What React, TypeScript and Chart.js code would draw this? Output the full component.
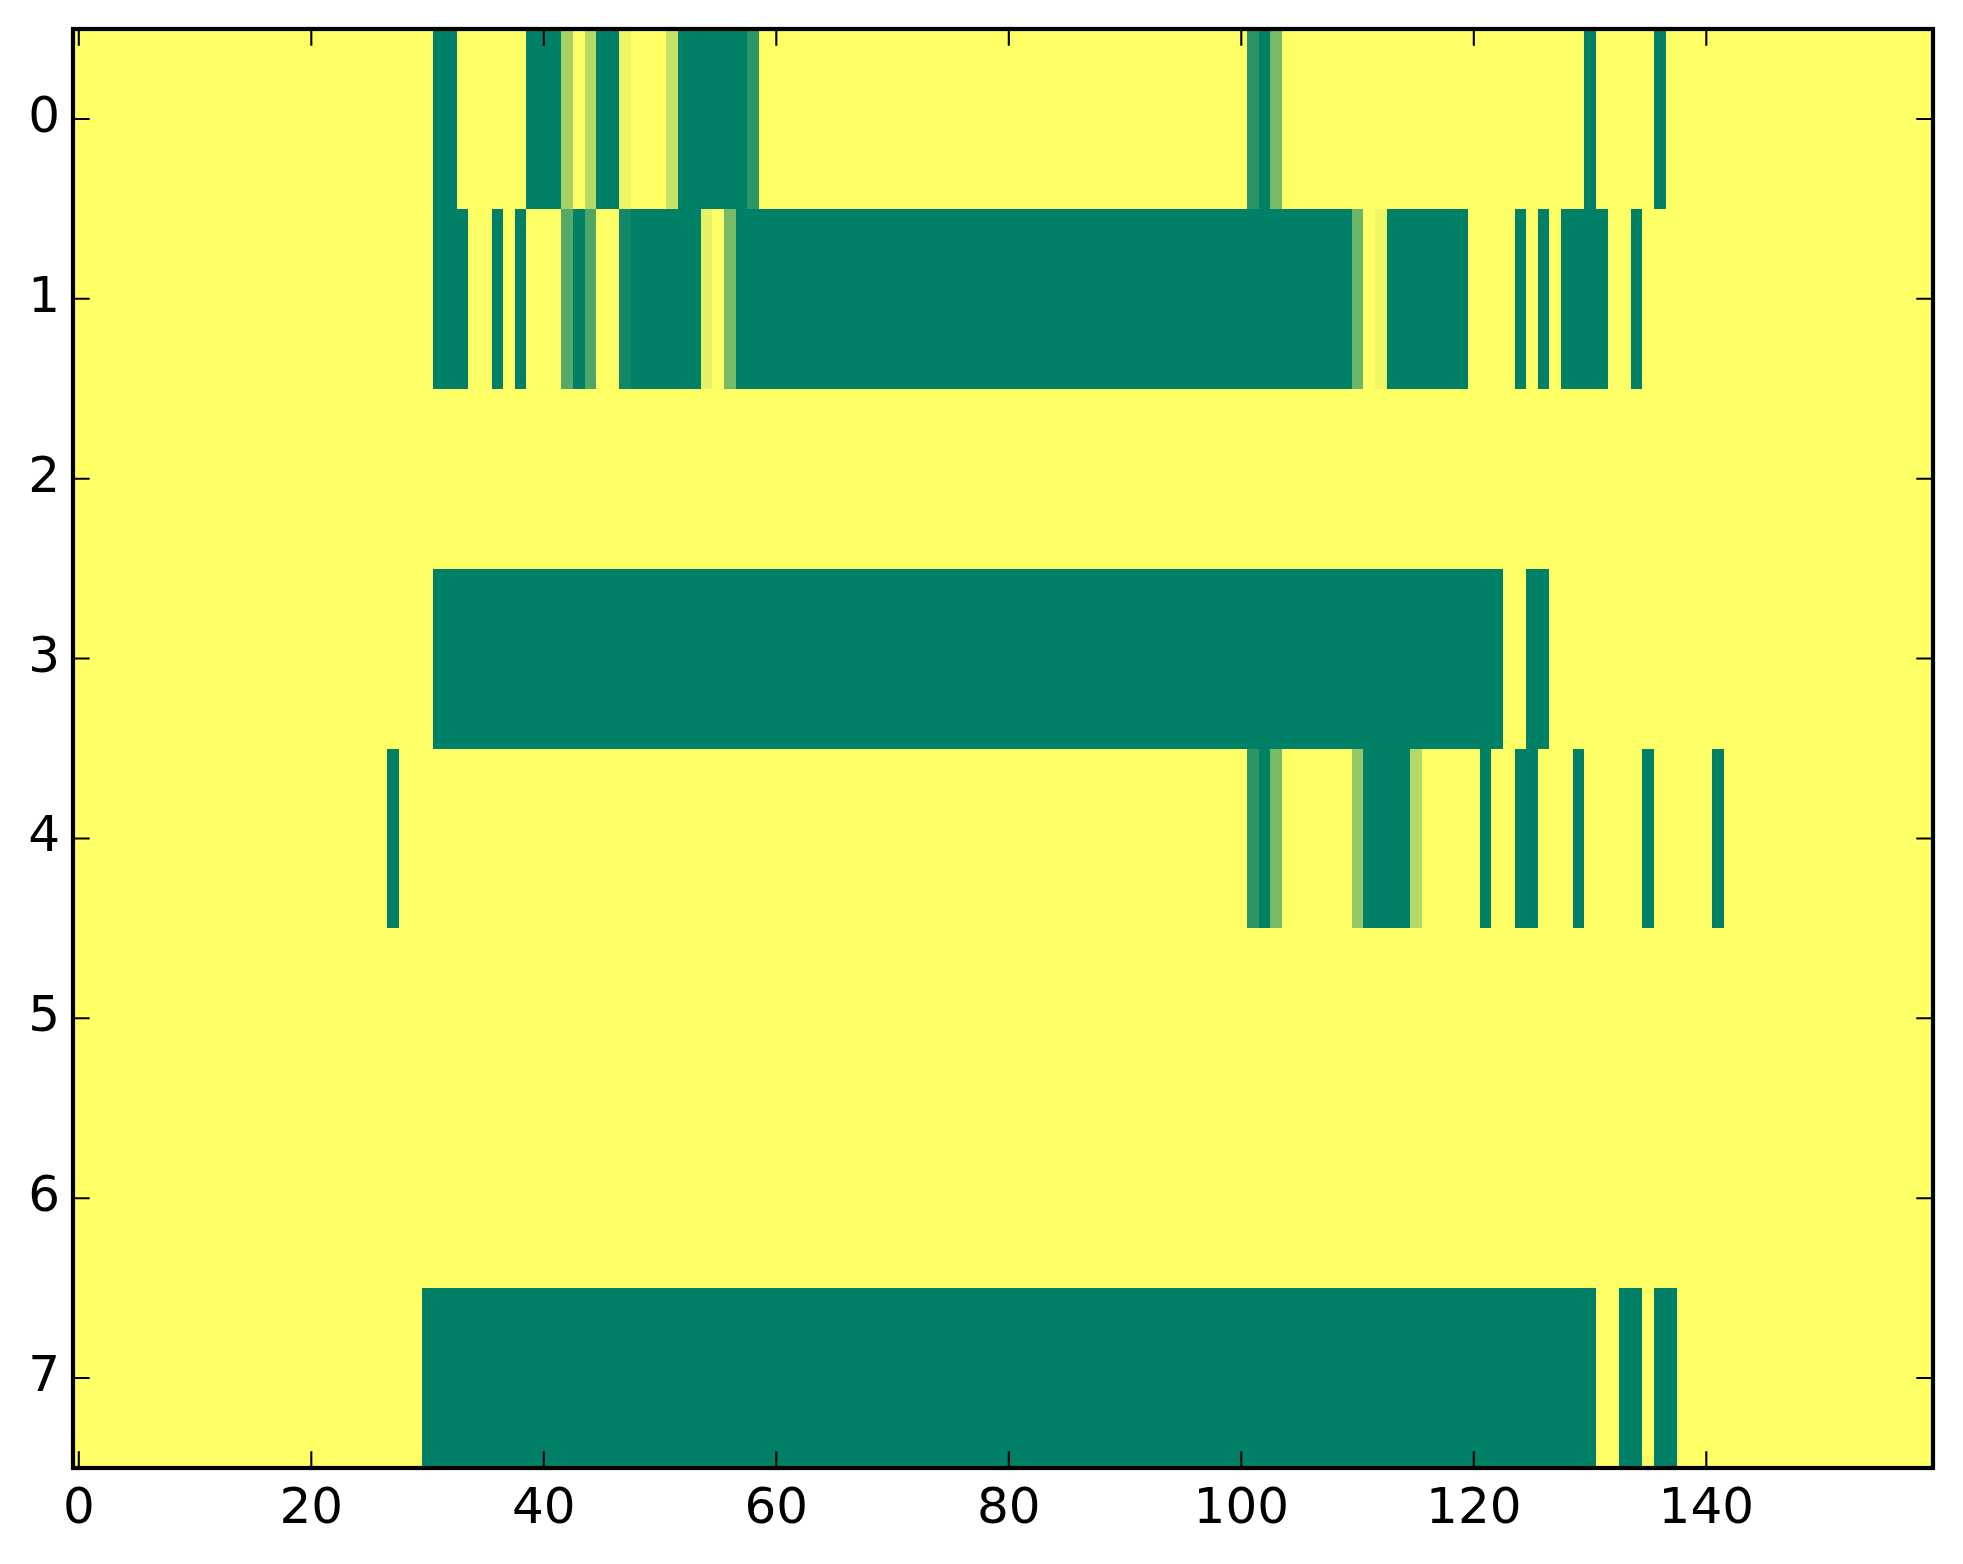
import React, { useEffect, useRef } from 'react';
import { Chart, registerables } from 'chart.js';

Chart.register(...registerables);

// ---- Data ----
const N_COLS = 160;
const ROW_LABELS = [0, 1, 2, 3, 4, 5, 6, 7];
const X_TICKS = [0, 20, 40, 60, 80, 100, 120, 140];
const BASE_VALUE = 1; // value of every cell not listed in a run

// runs of [firstCol, lastCol, value] that differ from BASE_VALUE
const row0Runs = [
  [31, 32, 0], [39, 41, 0], [42, 42, 0.65], [44, 44, 0.71], [45, 46, 0],
  [47, 47, 0.93], [51, 51, 0.78], [52, 57, 0], [58, 58, 0.18],
  [101, 101, 0.16], [102, 102, 0], [103, 103, 0.47], [130, 130, 0], [136, 136, 0],
];
const row1Runs = [
  [31, 33, 0], [36, 36, 0], [38, 38, 0], [42, 42, 0.33], [43, 43, 0],
  [44, 44, 0.3], [47, 47, 0.07], [48, 53, 0], [54, 54, 0.9], [56, 56, 0.47],
  [57, 109, 0], [110, 110, 0.42], [112, 112, 0.94], [113, 119, 0],
  [124, 124, 0], [126, 126, 0], [128, 131, 0], [134, 134, 0],
];
const row2Runs: number[][] = [];
const row3Runs = [[31, 122, 0], [125, 126, 0]];
const row4Runs = [
  [27, 27, 0], [101, 101, 0.18], [102, 102, 0], [103, 103, 0.47],
  [110, 110, 0.58], [111, 114, 0], [115, 115, 0.7], [121, 121, 0],
  [124, 125, 0], [129, 129, 0], [135, 135, 0], [141, 141, 0],
];
const row5Runs: number[][] = [];
const row6Runs: number[][] = [];
const row7Runs = [[30, 130, 0], [133, 134, 0], [136, 137, 0]];

const ROW_RUNS = [row0Runs, row1Runs, row2Runs, row3Runs, row4Runs, row5Runs, row6Runs, row7Runs];

function buildRow(runs: number[][]): number[] {
  const row = new Array(N_COLS).fill(BASE_VALUE);
  for (const [a, b, v] of runs) {
    for (let c = a; c <= b; c++) row[c] = v;
  }
  return row;
}
const MATRIX = ROW_RUNS.map(buildRow);

// matplotlib "summer" colormap
function summer(v: number): string {
  const r = Math.round(255 * v);
  const g = Math.round(255 * (0.5 + 0.5 * v));
  const b = Math.round(255 * 0.4);
  return `rgb(${r},${g},${b})`;
}

const FONT = { family: '"DejaVu Sans", sans-serif', size: 50, lineHeight: 1.2 };
const FRAME_W = 4.2;
const TICK_W = 2.1;
const TICK_LEN = 16.7;

const heatmapPlugin = {
  id: 'heatmap',
  beforeDatasetsDraw(chart: any) {
    const { ctx, scales } = chart;
    const x = scales.x;
    const y = scales.y;
    ctx.save();
    MATRIX.forEach((row, r) => {
      const y0 = Math.round(y.getPixelForValue(r - 0.5));
      const y1 = Math.round(y.getPixelForValue(r + 0.5));
      const top = Math.min(y0, y1);
      const h = Math.abs(y1 - y0);
      row.forEach((v, c) => {
        const x0 = Math.round(x.getPixelForValue(c - 0.5));
        const x1 = Math.round(x.getPixelForValue(c + 0.5));
        ctx.fillStyle = summer(v);
        ctx.fillRect(x0, top, x1 - x0, h);
      });
    });
    ctx.restore();
  },
  afterDraw(chart: any) {
    const { ctx, chartArea, scales } = chart;
    const { left, right, top, bottom } = chartArea;
    ctx.save();
    ctx.strokeStyle = '#000';
    ctx.lineWidth = TICK_W;
    ctx.beginPath();
    for (const t of X_TICKS) {
      const px = scales.x.getPixelForValue(t);
      ctx.moveTo(px, bottom);
      ctx.lineTo(px, bottom - TICK_LEN);
      ctx.moveTo(px, top);
      ctx.lineTo(px, top + TICK_LEN);
    }
    for (const t of ROW_LABELS) {
      const py = scales.y.getPixelForValue(t);
      ctx.moveTo(left, py);
      ctx.lineTo(left + TICK_LEN, py);
      ctx.moveTo(right, py);
      ctx.lineTo(right - TICK_LEN, py);
    }
    ctx.stroke();
    ctx.lineWidth = FRAME_W;
    ctx.lineJoin = 'miter';
    ctx.strokeRect(left, top, right - left, bottom - top);
    ctx.restore();
  },
};

export default function App() {
  const canvasRef = useRef<HTMLCanvasElement | null>(null);

  useEffect(() => {
    const canvas = canvasRef.current;
    if (!canvas) return;
    const chart = new Chart(canvas, {
      type: 'scatter',
      data: { datasets: [{ data: [], pointRadius: 0 }] },
      options: {
        responsive: false,
        animation: false,
        devicePixelRatio: 1,
        layout: { padding: { left: 0, top: 29, right: 30, bottom: 0 } },
        plugins: {
          legend: { display: false },
          tooltip: { enabled: false },
        },
        scales: {
          x: {
            type: 'linear',
            position: 'bottom',
            min: -0.5,
            max: N_COLS - 0.5,
            grid: { display: false, drawTicks: false },
            border: { display: false },
            afterBuildTicks: (s: any) => {
              s.ticks = X_TICKS.map((v) => ({ value: v }));
            },
            afterFit: (s: any) => {
              s.height = 96;
              s.paddingLeft = 0;
              s.paddingRight = 0;
              s.paddingTop = 0;
              s.paddingBottom = 0;
            },
            ticks: {
              font: FONT,
              color: '#000',
              padding: 12,
              maxRotation: 0,
              autoSkip: false,
              callback: (v: any) => String(v),
            },
          },
          y: {
            type: 'linear',
            reverse: true,
            min: -0.5,
            max: ROW_LABELS.length - 0.5,
            grid: { display: false, drawTicks: false },
            border: { display: false },
            afterBuildTicks: (s: any) => {
              s.ticks = ROW_LABELS.map((v) => ({ value: v }));
            },
            afterFit: (s: any) => {
              s.width = 73;
              s.paddingLeft = 0;
              s.paddingRight = 0;
              s.paddingTop = 0;
              s.paddingBottom = 0;
            },
            ticks: {
              font: FONT,
              color: '#000',
              padding: 13,
              autoSkip: false,
              callback: (v: any) => String(v),
            },
          },
        },
      },
      plugins: [heatmapPlugin],
    });
    return () => chart.destroy();
  }, []);

  return (
    <div style={{ position: 'absolute', left: 0, top: 0, width: 1963, height: 1564, background: '#fff' }}>
      <canvas ref={canvasRef} width={1963} height={1564} style={{ display: 'block', width: 1963, height: 1564 }} />
    </div>
  );
}
